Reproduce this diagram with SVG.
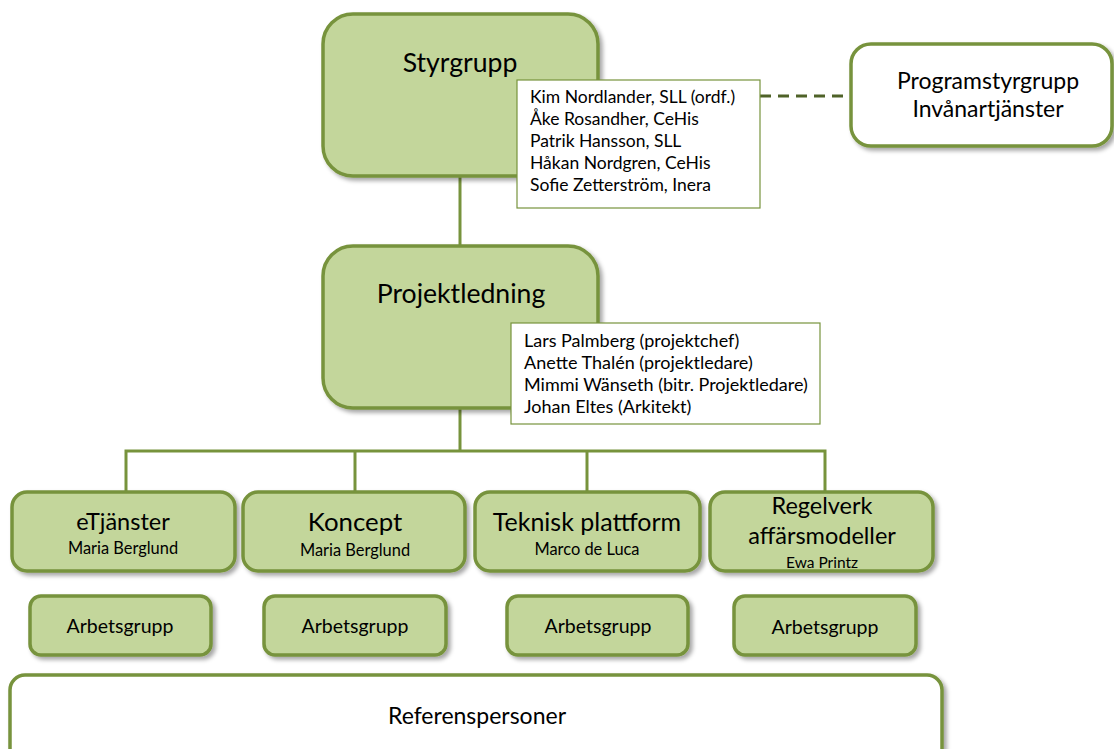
<svg xmlns="http://www.w3.org/2000/svg" width="1114" height="749" viewBox="0 0 1114 749">
<defs>
<filter id="sh" x="-10%" y="-10%" width="120%" height="130%">
<feDropShadow dx="3" dy="3" stdDeviation="2" flood-color="#000" flood-opacity="0.35"/>
</filter>
<style>
.g{fill:#c3d69b;stroke:#77933c;stroke-width:3.5;filter:url(#sh)}
.w{fill:#fff;stroke:#77933c;stroke-width:3.5;filter:url(#sh)}
.m{fill:#fff;stroke:#77933c;stroke-width:1.2}
.c{fill:none;stroke:#77933c;stroke-width:3}
text{font-family:Lato,"Open Sans",sans-serif;fill:#000}
.t{text-anchor:middle}
.s{font-size:17.5px}
.p{font-size:18px}
</style>
</defs>
<rect width="1114" height="749" fill="#fff"/>
<g id="connectors">
<line class="c" x1="460" y1="176" x2="460" y2="246"/>
<line class="c" x1="460" y1="408" x2="460" y2="451"/>
<polyline class="c" points="126,492 126,451 825,451 825,492"/>
<line class="c" x1="355" y1="451" x2="355" y2="492"/>
<line class="c" x1="587" y1="451" x2="587" y2="492"/>
<line x1="760" y1="96" x2="850" y2="96" stroke="#4f6228" stroke-width="3" stroke-dasharray="11,7"/>
</g>
<g id="styrgrupp">
<rect class="g" x="323" y="14" width="275" height="162" rx="30"/>
<text class="t" x="460" y="72" font-size="26.6">Styrgrupp</text>
</g>
<g id="styrgrupp-members">
<rect class="m" x="517" y="80" width="243" height="128"/>
<text class="s" x="530" y="103">Kim Nordlander, SLL (ordf.)</text>
<text class="s" x="530" y="125">Åke Rosandher, CeHis</text>
<text class="s" x="530" y="147">Patrik Hansson, SLL</text>
<text class="s" x="530" y="169">Håkan Nordgren, CeHis</text>
<text class="s" x="530" y="191">Sofie Zetterström, Inera</text>
</g>
<g id="programstyrgrupp">
<rect class="w" x="851" y="44" width="261" height="102" rx="20"/>
<text class="t" x="988" y="89" font-size="23">Programstyrgrupp</text>
<text class="t" x="988" y="117" font-size="23">Invånartjänster</text>
</g>
<g id="projektledning">
<rect class="g" x="323" y="246" width="275" height="162" rx="30"/>
<text class="t" x="461" y="303" font-size="26.6">Projektledning</text>
</g>
<g id="projektledning-members">
<rect class="m" x="511" y="323" width="309" height="101"/>
<text class="p" x="524" y="347">Lars Palmberg (projektchef)</text>
<text class="p" x="524" y="369">Anette Thalén (projektledare)</text>
<text class="p" x="524" y="391">Mimmi Wänseth (bitr. Projektledare)</text>
<text class="p" x="524" y="413">Johan Eltes (Arkitekt)</text>
</g>
<g id="etjanster">
<rect class="g" x="12" y="492" width="223" height="79" rx="15"/>
<text class="t" x="123" y="530" font-size="23.5">eTjänster</text>
<text class="t" x="123" y="554" font-size="16.4">Maria Berglund</text>
</g>
<g id="koncept">
<rect class="g" x="243" y="492" width="222" height="79" rx="15"/>
<text class="t" x="355" y="531" font-size="25.8">Koncept</text>
<text class="t" x="355" y="556" font-size="16.4">Maria Berglund</text>
</g>
<g id="teknisk">
<rect class="g" x="475" y="492" width="225" height="79" rx="15"/>
<text class="t" x="587" y="531" font-size="25">Teknisk plattform</text>
<text class="t" x="587" y="555" font-size="16.4">Marco de Luca</text>
</g>
<g id="regelverk">
<rect class="g" x="710" y="492" width="223" height="79" rx="15"/>
<text class="t" x="822" y="514" font-size="23.5">Regelverk</text>
<text class="t" x="822" y="544" font-size="23.5">affärsmodeller</text>
<text class="t" x="822" y="568" font-size="15.5">Ewa Printz</text>
</g>
<g id="arbetsgrupp1">
<rect class="g" x="30" y="596" width="181" height="59" rx="11"/>
<text class="t" x="120" y="633" font-size="19.5">Arbetsgrupp</text>
</g>
<g id="arbetsgrupp2">
<rect class="g" x="264" y="596" width="182" height="59" rx="11"/>
<text class="t" x="355" y="633" font-size="19.5">Arbetsgrupp</text>
</g>
<g id="arbetsgrupp3">
<rect class="g" x="507" y="596" width="181" height="59" rx="11"/>
<text class="t" x="598" y="633" font-size="19.5">Arbetsgrupp</text>
</g>
<g id="arbetsgrupp4">
<rect class="g" x="734" y="596" width="182" height="59" rx="11"/>
<text class="t" x="825" y="634" font-size="19.5">Arbetsgrupp</text>
</g>
<g id="referenspersoner">
<rect class="w" x="10" y="675" width="932" height="90" rx="15"/>
<text class="t" x="477" y="724" font-size="23">Referenspersoner</text>
</g>
</svg>
